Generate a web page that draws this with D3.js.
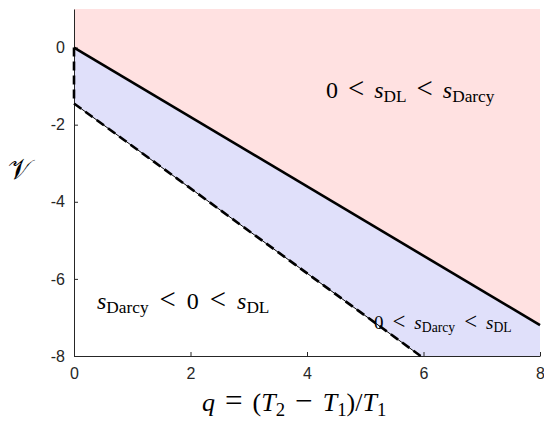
<!DOCTYPE html>
<html>
<head>
<meta charset="utf-8">
<script src="https://cdn.jsdelivr.net/npm/d3@7"></script>
<style>
  body { margin: 0; background: #fff; }
  svg { display: block; }
  .tick text { font-family: "Liberation Sans", Arial, sans-serif; font-size: 16px; fill: #262626; }
  .math { font-family: "Liberation Serif", "DejaVu Serif", serif; fill: #000; }
</style>
</head>
<body>
<svg id="chart" width="544" height="422"></svg>
<script>
// boundary lines (q, V)
const solidQ = [0, 8];
const solidV = [0, -7.2];
const dashedQ = [0, 5.95];
const dashedV = [-1.45, -8];
const xTicks = [0, 2, 4, 6, 8];
const yTicks = [0, -2, -4, -6, -8];
const xDomain = [0, 8];
const yDomain = [-8, 1];

const svg = d3.select("#chart");
const margin = { top: 9, right: 4, bottom: 66, left: 74 };
const width = 544 - margin.left - margin.right;
const height = 422 - margin.top - margin.bottom;

const x = d3.scaleLinear().domain(xDomain).range([0, width]);
const y = d3.scaleLinear().domain(yDomain).range([height, 0]);

const g = svg.append("g").attr("transform", `translate(${margin.left},${margin.top})`);

const solid = solidQ.map((q, i) => [q, solidV[i]]);
const dashed = dashedQ.map((q, i) => [q, dashedV[i]]);
const line = d3.line().x(d => x(d[0])).y(d => y(d[1]));

// pink region above the solid line
const pink = [[xDomain[0], yDomain[1]], solid[0], solid[1], [xDomain[1], yDomain[1]]];
g.append("path").attr("d", line(pink) + "Z").attr("fill", "#ffe1e1");

// blue region between the lines
const blue = [solid[0], solid[1], [xDomain[1], yDomain[0]], dashed[1], dashed[0]];
g.append("path").attr("d", line(blue) + "Z").attr("fill", "#e0e0fa");

// axes
const fmt = d => String(d);
const xAxis = d3.axisBottom(x).tickValues(xTicks).tickFormat(fmt)
  .tickSizeInner(-4).tickSizeOuter(0).tickPadding(12);
const yAxis = d3.axisLeft(y).tickValues(yTicks).tickFormat(fmt)
  .tickSizeInner(-4).tickSizeOuter(0).tickPadding(9);

g.append("g").attr("transform", `translate(0,${height})`).call(xAxis)
  .call(a => a.select(".domain").attr("stroke", "#262626"))
  .call(a => a.selectAll(".tick line").attr("stroke", "#262626"));
g.append("g").call(yAxis)
  .call(a => a.select(".domain").attr("stroke", "#262626"))
  .call(a => a.selectAll(".tick line").attr("stroke", "#262626"));

// boundary lines
g.append("path").attr("d", line(solid)).attr("fill", "none")
  .attr("stroke", "#000").attr("stroke-width", 2.6);
g.append("path").attr("d", line(dashed)).attr("fill", "none")
  .attr("stroke", "#000").attr("stroke-width", 1);
g.append("path").attr("d", line(dashed)).attr("fill", "none")
  .attr("stroke", "#000").attr("stroke-width", 2.6).attr("stroke-dasharray", "9,5");
g.append("path").attr("d", line([solid[0], dashed[0]])).attr("fill", "none")
  .attr("stroke", "#000").attr("stroke-width", 2.6).attr("stroke-dasharray", "9,5");

// math labels: parts may be italic (i), subscript (sub) or binary/relation operators (op)
function mathText(parent, px, py, size, gap, parts) {
  const t = parent.append("text").attr("class", "math")
    .attr("x", px).attr("y", py).attr("font-size", size);
  let lowered = false;
  let padNext = false;
  parts.forEach(p => {
    const s = t.append("tspan").text(p.t);
    let dx = 0;
    if (p.i) s.attr("font-style", "italic");
    if (p.sub) {
      s.attr("font-size", size * 0.72);
      if (!lowered) { s.attr("dy", size * 0.18); lowered = true; }
    } else if (lowered) {
      s.attr("dy", -size * 0.18); lowered = false;
    }
    if (p.op) { dx += gap; s.attr("font-size", size * 1.2); }
    if (padNext) dx += gap;
    padNext = !!p.op;
    if (dx) s.attr("dx", dx);
  });
  return t;
}

mathText(svg, 326, 98, 24, 10, [
  { t: "0" }, { t: "<", op: true }, { t: "s", i: true }, { t: "DL", sub: true },
  { t: "<", op: true }, { t: "s", i: true }, { t: "Darcy", sub: true }
]);
mathText(svg, 97, 309, 24, 11, [
  { t: "s", i: true }, { t: "Darcy", sub: true },
  { t: "<", op: true }, { t: "0" }, { t: "<", op: true }, { t: "s", i: true }, { t: "DL", sub: true }
]);
mathText(svg, 374, 329, 19, 9, [
  { t: "0" }, { t: "<", op: true }, { t: "s", i: true }, { t: "Darcy", sub: true },
  { t: "<", op: true }, { t: "s", i: true }, { t: "DL", sub: true }
]);

// x label
mathText(svg, 202, 411, 26, 10, [
  { t: "q", i: true }, { t: "=", op: true }, { t: "(" }, { t: "T", i: true }, { t: "2", sub: true },
  { t: "−", op: true }, { t: "T", i: true }, { t: "1", sub: true },
  { t: ")/" }, { t: "T", i: true }, { t: "1", sub: true }
]);

// y label
svg.append("text").attr("class", "math")
  .attr("x", 19).attr("y", 179).attr("font-size", 28)
  .attr("text-anchor", "middle").text("𝒱");
</script>
</body>
</html>
